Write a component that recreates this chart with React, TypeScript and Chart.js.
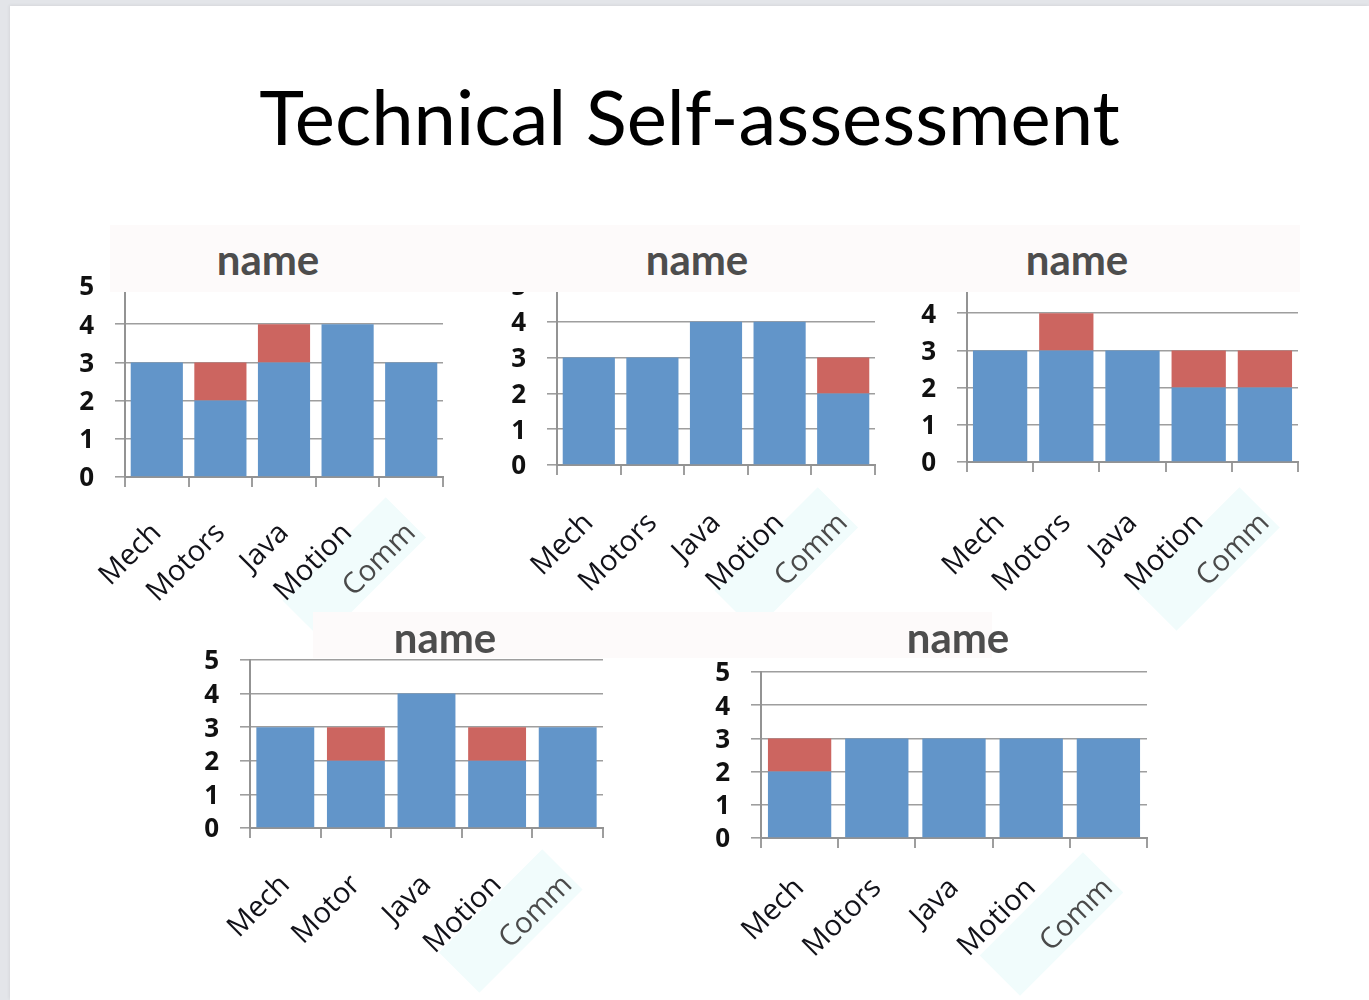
import React, { useEffect, useRef } from 'react';
import { Chart, registerables } from 'chart.js';

Chart.register(...registerables);

// ---------- data ----------
const PAGE_TITLE = 'Technical Self-assessment';
const PANEL_TITLES = ['name', 'name', 'name', 'name', 'name'];
const CATEGORIES_A = ['Mech', 'Motors', 'Java', 'Motion', 'Comm'];
const CATEGORIES_B = ['Mech', 'Motor', 'Java', 'Motion', 'Comm'];
const Y_MIN = 0;
const Y_MAX = 5;
const Y_STEP = 1;

const panel1Blue = [3, 2, 3, 4, 3];
const panel1Red = [0, 1, 1, 0, 0];
const panel2Blue = [3, 3, 4, 4, 2];
const panel2Red = [0, 0, 0, 0, 1];
const panel3Blue = [3, 3, 3, 2, 2];
const panel3Red = [0, 1, 0, 1, 1];
const panel4Blue = [3, 2, 4, 2, 3];
const panel4Red = [0, 1, 0, 1, 0];
const panel5Blue = [2, 3, 3, 3, 3];
const panel5Red = [1, 0, 0, 0, 0];

// ---------- styles ----------
const BLUE = 'rgb(98,149,201)';
const RED = 'rgb(204,101,96)';
const GRID = '#9e9e9e';
const AXIS = '#939393';
const CYAN = '#f1fcfc';
const BAND = '#fdfafa';
const X_FONT_SIZE = 29;

type Layout = {
  left: number; top: number; width: number; height: number;
  plotLeft: number; plotRight: number; plotTop: number; plotBottom: number;
  xPad: number; titleX: number; titleBaseline: number;
};

const LAYOUTS: Layout[] = [
  { left: 50, top: 270, width: 415, height: 380, plotLeft: 125, plotRight: 443, plotTop: 286, plotBottom: 477, xPad: 29, titleX: 268, titleBaseline: 275 },
  { left: 480, top: 270, width: 410, height: 380, plotLeft: 557, plotRight: 875, plotTop: 286, plotBottom: 465, xPad: 31, titleX: 697, titleBaseline: 275 },
  { left: 895, top: 260, width: 425, height: 390, plotLeft: 967, plotRight: 1298, plotTop: 276, plotBottom: 462, xPad: 34, titleX: 1077, titleBaseline: 275 },
  { left: 170, top: 645, width: 450, height: 355, plotLeft: 250, plotRight: 603, plotTop: 660, plotBottom: 828, xPad: 30, titleX: 445, titleBaseline: 653 },
  { left: 680, top: 655, width: 485, height: 345, plotLeft: 761, plotRight: 1147, plotTop: 672, plotBottom: 838, xPad: 23, titleX: 958, titleBaseline: 653 },
];

const commBoxPlugin = {
  id: 'commBox',
  beforeDraw(chart: any) {
    const xs = chart.scales.x;
    if (!xs) return;
    const ctx = chart.ctx;
    const idx = xs.ticks.length - 1;
    const px = xs.getPixelForTick(idx);
    const lh = X_FONT_SIZE * 1.2;
    const y = xs.top + xs.options.grid.tickLength + xs.options.ticks.padding;
    ctx.save();
    ctx.translate(px - Math.SQRT1_2 * lh / 2, y);
    ctx.rotate(-Math.PI / 4);
    ctx.fillStyle = CYAN;
    ctx.fillRect(-142, lh / 2 - 40, 146, 57);
    ctx.restore();
  },
};

function BarPanel({ labels, blue, red, layout }: { labels: string[]; blue: number[]; red: number[]; layout: Layout }) {
  const ref = useRef<HTMLCanvasElement>(null);
  useEffect(() => {
    if (!ref.current) return;
    const yw = layout.plotLeft - layout.left;
    const xh = layout.top + layout.height - layout.plotBottom;
    const padTop = layout.plotTop - layout.top;
    const padRight = layout.left + layout.width - layout.plotRight;
    const chart = new Chart(ref.current, {
      type: 'bar',
      data: {
        labels,
        datasets: [
          { data: blue, backgroundColor: BLUE, stack: 's', barPercentage: 0.82, categoryPercentage: 1 },
          { data: red, backgroundColor: RED, stack: 's', barPercentage: 0.82, categoryPercentage: 1 },
        ],
      },
      options: {
        responsive: false,
        animation: false,
        devicePixelRatio: 1,
        layout: { padding: { top: padTop, right: padRight, left: 0, bottom: 0 } },
        plugins: { legend: { display: false }, tooltip: { enabled: false }, title: { display: false } },
        scales: {
          x: {
            stacked: true,
            offset: true,
            grid: { offset: true, drawOnChartArea: false, drawTicks: true, tickLength: 10, color: GRID, lineWidth: 2 },
            border: { color: AXIS, width: 2 },
            ticks: {
              autoSkip: false,
              minRotation: 45,
              maxRotation: 45,
              padding: layout.xPad,
              font: { family: 'Open Sans', size: X_FONT_SIZE },
              color: (c: any) => (c.index === labels.length - 1 ? '#4a4a4a' : '#121219'),
            },
            afterFit: (s: any) => { s.height = xh; s.paddingLeft = 0; s.paddingRight = 0; },
          },
          y: {
            stacked: true,
            min: Y_MIN,
            max: Y_MAX,
            ticks: {
              stepSize: Y_STEP,
              autoSkip: false,
              padding: 21,
              labelOffset: 2,
              font: { family: 'Open Sans', size: 26, weight: 700 },
              color: '#111111',
            },
            grid: { color: GRID, lineWidth: 1.6, tickLength: 10, drawTicks: true },
            border: { color: AXIS, width: 2 },
            afterFit: (s: any) => { s.width = yw; s.paddingTop = 0; s.paddingBottom = 0; },
          },
        },
      } as any,
      plugins: [commBoxPlugin],
    });
    return () => chart.destroy();
  }, []);
  return (
    <div style={{ position: 'absolute', left: layout.left, top: layout.top, width: layout.width, height: layout.height }}>
      <canvas ref={ref} width={layout.width} height={layout.height} style={{ width: layout.width, height: layout.height, display: 'block' }} />
    </div>
  );
}

const PANELS = [
  { labels: CATEGORIES_A, blue: panel1Blue, red: panel1Red },
  { labels: CATEGORIES_A, blue: panel2Blue, red: panel2Red },
  { labels: CATEGORIES_A, blue: panel3Blue, red: panel3Red },
  { labels: CATEGORIES_B, blue: panel4Blue, red: panel4Red },
  { labels: CATEGORIES_A, blue: panel5Blue, red: panel5Red },
];

export default function App() {
  return (
    <div style={{ position: 'fixed', left: 0, top: 0, width: 1369, height: 1000, background: '#e3e5e9', overflow: 'hidden' }}>
      <div style={{ position: 'absolute', left: 10, top: 6, right: 0, bottom: 0, background: '#ffffff', boxShadow: '-1px -1px 3px rgba(0,0,0,0.06)' }} />
      <div style={{ position: 'absolute', left: 10, top: 70, width: 1359, textAlign: 'center', fontFamily: 'Lato', fontSize: 76, lineHeight: 1.2, color: '#000', whiteSpace: 'nowrap' }}>
        {PAGE_TITLE}
      </div>
      {PANELS.map((p, i) => (
        <BarPanel key={i} labels={p.labels} blue={p.blue} red={p.red} layout={LAYOUTS[i]} />
      ))}
      <div style={{ position: 'absolute', left: 110, top: 225, width: 1190, height: 67, background: BAND }} />
      <div style={{ position: 'absolute', left: 313, top: 612, width: 679, height: 46, background: BAND }} />
      {PANEL_TITLES.map((t, i) => (
        <div key={i} style={{ position: 'absolute', left: LAYOUTS[i].titleX - 120, top: LAYOUTS[i].titleBaseline - 0.987 * 42, width: 240, textAlign: 'center', fontFamily: 'Lato', fontWeight: 'bold', fontSize: 42, lineHeight: 1.2, color: '#4d4d4d' }}>
          {t}
        </div>
      ))}
    </div>
  );
}
